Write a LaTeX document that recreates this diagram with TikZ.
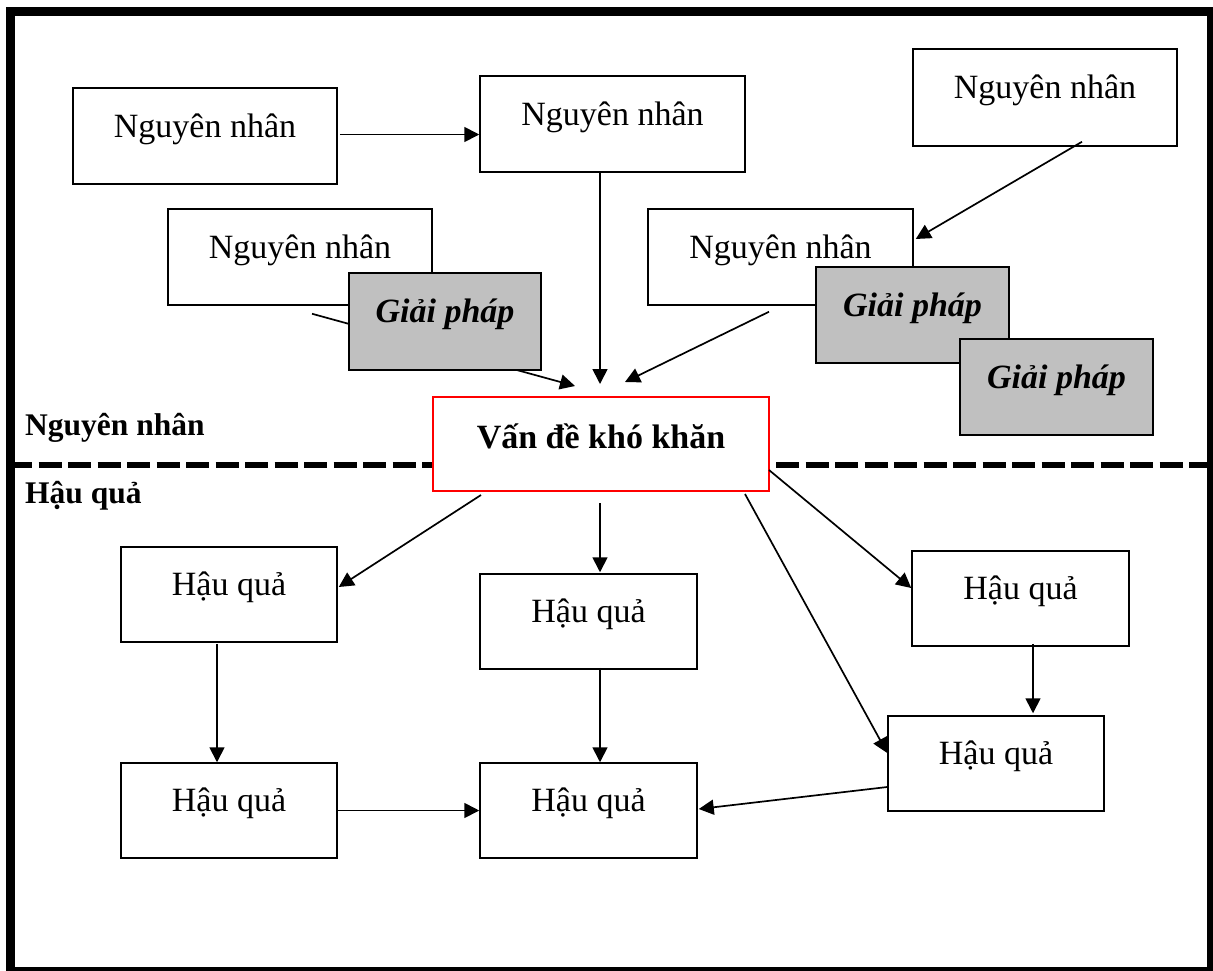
\documentclass[tikz,border=0pt]{standalone}
\usepackage{fontspec}
\setmainfont{Liberation Serif}
\usetikzlibrary{arrows.meta,calc}
\definecolor{gfill}{RGB}{192,192,192}
\definecolor{redline}{RGB}{255,0,0}
\begin{document}
\begin{tikzpicture}[x=1pt,y=-1pt,
  bx/.style={draw=black, line width=1.5pt, fill=white, inner sep=0pt,
    minimum height=96pt, text height=49pt, text depth=47pt,
    font=\fontsize{34}{40}\selectfont},
  gbx/.style={bx, fill=gfill, font=\fontsize{34}{40}\selectfont\bfseries\itshape},
  vbx/.style={draw=redline, line width=2pt, fill=white, inner sep=0pt,
    minimum width=336pt, minimum height=94pt, text height=51pt, text depth=43pt,
    font=\fontsize{34}{40}\selectfont\bfseries},
  side/.style={anchor=base west, inner sep=0pt, font=\fontsize{31.5}{36}\selectfont\bfseries},
  arr/.style={line width=1.7pt, -{Triangle[length=15pt,width=15pt]}}
]
\fill[white] (0,0) rectangle (1213,970);
\useasboundingbox (0,0) rectangle (1213,970);

% separator
\draw[line width=6.7pt, dash pattern=on 23pt off 6.5pt] (9,465) -- (1213,465);

% side labels
\node[side] (lblN) at (25,435) {Nguyên nhân};
\node[side] (lblH) at (25,503) {Hậu quả};

% cause boxes
\node[bx, minimum width=264pt] (N1) at (205,136) {Nguyên nhân};
\node[bx, minimum width=265pt] (N2) at (612.5,124) {Nguyên nhân};
\node[bx, minimum width=264pt, minimum height=97pt, text depth=48pt] (N3) at (1045,97.5) {Nguyên nhân};
\node[bx, minimum width=264pt] (N4) at (300,257) {Nguyên nhân};
\node[bx, minimum width=265pt] (N5) at (780.5,257) {Nguyên nhân};

% central problem
\node[vbx] (V) at (601,444) {Vấn đề khó khăn};

% consequence boxes
\node[bx, minimum width=216pt, minimum height=95pt, text height=48pt] (H1) at (229,594.5) {Hậu quả};
\node[bx, minimum width=217pt, minimum height=95pt, text height=48pt] (H2) at (588.5,621.5) {Hậu quả};
\node[bx, minimum width=216pt, minimum height=95pt, text height=48pt] (H3) at (229,810.5) {Hậu quả};
\node[bx, minimum width=217pt, minimum height=95pt, text height=48pt] (H4) at (588.5,810.5) {Hậu quả};
\node[bx, minimum width=217pt, minimum height=95pt, text height=48pt] (H5) at (1020.5,598.5) {Hậu quả};
\node[bx, minimum width=216pt, minimum height=95pt, text height=48pt] (H6) at (996,763.5) {Hậu quả};

% connectors (cause side)
\draw[arr] ($(N1.east)+(2,-1.5)$) -- ($(N2.west)+(0,10.5)$);
\draw[arr] ($(N2.south)+(-12.5,0)$) -- ($(V.north)+(-1,-12)$);
\draw[arr] ($(N4.south)+(12,8)$) -- ($(V.north)+(-26,-10)$);
\draw[arr] ($(N3.south)+(37,-5)$) -- ($(N5.east)+(2,-18)$);
\draw[arr] ($(N5.south)+(-11.5,6)$) -- ($(V.north)+(24,-14)$);

% connectors (consequence side)
\draw[arr] ($(V.south)+(-120,3)$) -- ($(H1.east)+(1,-7.5)$);
\draw[arr] ($(V.south)+(-1,11)$) -- ($(H2.north)+(11.5,-1)$);
\draw[arr] ($(H2.south)+(11.5,-2)$) -- ($(H4.north)+(11.5,0)$);
\draw[arr] ($(H1.south)+(-12,1)$) -- ($(H3.north)+(-12,0)$);
\draw[arr] (H3.east) -- (H4.west);
\draw[arr] ($(V.south)+(144,2)$) -- ($(H6.west)+(0,-10.5)$);
\draw[arr] ($(V.east)+(-1,26)$) -- ($(H5.west)+(0,-10.5)$);
\draw[arr] ($(H5.south)+(12.5,-3)$) -- ($(H6.north)+(37,-2)$);
\draw[arr] ($(H6.west)+(0,23.5)$) -- ($(H4.east)+(1,-1.5)$);

% solution boxes (on top)
\node[gbx, minimum width=192pt, minimum height=97pt, text depth=48pt] (G1) at (445,321.5) {Giải pháp};
\node[gbx, minimum width=193pt] (G2) at (912.5,315) {Giải pháp};
\node[gbx, minimum width=193pt] (G3) at (1056.5,387) {Giải pháp};

% outer frame
\draw[line width=9pt] (10.5,11.2) rectangle (1211.5,971.5);
\end{tikzpicture}
\end{document}
